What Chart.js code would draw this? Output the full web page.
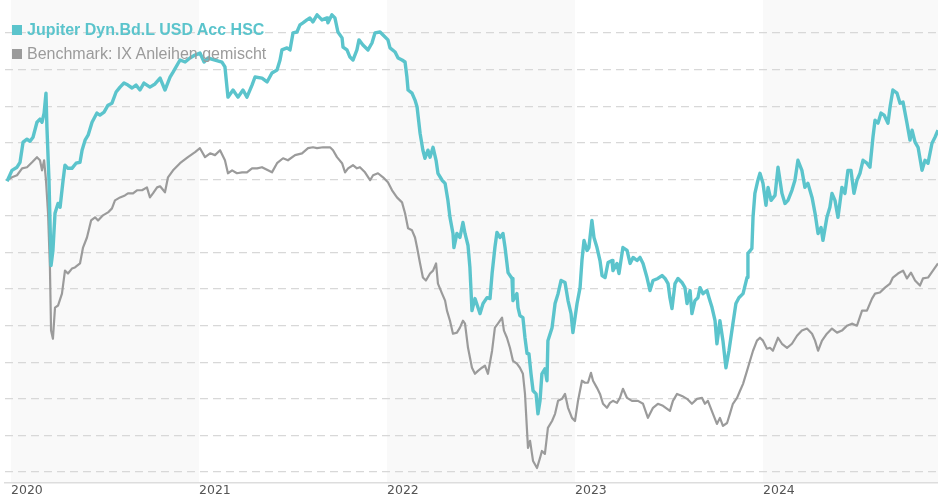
<!DOCTYPE html>
<html>
<head>
<meta charset="utf-8">
<script src="https://cdn.jsdelivr.net/npm/chart.js@4"></script>
<style>
  body { margin: 0; background: #fff; }
  #wrap { position: relative; width: 938px; height: 500px; }
  #legend { position: absolute; left: 12px; top: 20px; font-family: "Liberation Sans", Arial, sans-serif; font-size: 16px; }
  #legend div { height: 24px; line-height: 19px; white-space: nowrap; }
  #legend span.box { display: inline-block; width: 10px; height: 10px; margin-right: 5px; vertical-align: 0px; }
</style>
</head>
<body>
<div id="wrap">
  <canvas id="chart" width="938" height="500"></canvas>
  <div id="legend"></div>
</div>
<script>
// decimal years / cumulative performance in %
const fundName = "Jupiter Dyn.Bd.L USD Acc HSC";
const benchName = "Benchmark: IX Anleihen gemischt";
const yearTicks = [2020, 2021, 2022, 2023, 2024];
const shadedYears = [2020, 2022, 2024];

const fundT = [2019.979,2020.005,2020.032,2020.048,2020.064,2020.085,2020.101,2020.117,2020.138,2020.154,2020.165,2020.176,2020.186,2020.191,2020.202,2020.213,2020.223,2020.234,2020.250,2020.261,2020.277,2020.287,2020.303,2020.324,2020.346,2020.367,2020.378,2020.394,2020.410,2020.431,2020.457,2020.473,2020.495,2020.516,2020.537,2020.559,2020.580,2020.601,2020.622,2020.644,2020.665,2020.686,2020.707,2020.739,2020.766,2020.793,2020.819,2020.846,2020.862,2020.899,2020.926,2020.952,2020.979,2021.005,2021.027,2021.048,2021.085,2021.122,2021.138,2021.154,2021.181,2021.207,2021.234,2021.255,2021.282,2021.298,2021.335,2021.362,2021.388,2021.415,2021.431,2021.441,2021.468,2021.484,2021.500,2021.521,2021.537,2021.553,2021.574,2021.590,2021.606,2021.628,2021.654,2021.681,2021.686,2021.707,2021.723,2021.739,2021.761,2021.766,2021.787,2021.803,2021.819,2021.840,2021.851,2021.872,2021.899,2021.920,2021.936,2021.963,2021.979,2022.005,2022.016,2022.043,2022.059,2022.080,2022.096,2022.106,2022.112,2022.133,2022.149,2022.160,2022.176,2022.191,2022.202,2022.218,2022.229,2022.245,2022.261,2022.271,2022.293,2022.309,2022.324,2022.335,2022.351,2022.356,2022.372,2022.388,2022.404,2022.415,2022.431,2022.441,2022.452,2022.468,2022.484,2022.495,2022.511,2022.532,2022.548,2022.559,2022.574,2022.585,2022.601,2022.617,2022.628,2022.644,2022.665,2022.670,2022.691,2022.697,2022.707,2022.723,2022.734,2022.745,2022.755,2022.766,2022.777,2022.793,2022.803,2022.814,2022.824,2022.840,2022.851,2022.856,2022.878,2022.894,2022.910,2022.926,2022.947,2022.963,2022.979,2022.989,2023.011,2023.027,2023.037,2023.048,2023.064,2023.074,2023.090,2023.101,2023.117,2023.133,2023.144,2023.160,2023.176,2023.197,2023.202,2023.223,2023.234,2023.255,2023.277,2023.293,2023.309,2023.330,2023.346,2023.362,2023.383,2023.399,2023.415,2023.441,2023.463,2023.479,2023.495,2023.505,2023.516,2023.532,2023.548,2023.569,2023.585,2023.596,2023.612,2023.622,2023.638,2023.654,2023.665,2023.681,2023.702,2023.713,2023.729,2023.745,2023.755,2023.771,2023.787,2023.803,2023.819,2023.840,2023.856,2023.872,2023.894,2023.915,2023.920,2023.941,2023.947,2023.957,2023.973,2023.984,2024.000,2024.016,2024.027,2024.043,2024.064,2024.080,2024.101,2024.117,2024.133,2024.154,2024.170,2024.186,2024.207,2024.223,2024.239,2024.261,2024.277,2024.293,2024.309,2024.319,2024.340,2024.356,2024.367,2024.383,2024.399,2024.420,2024.436,2024.452,2024.468,2024.484,2024.500,2024.516,2024.532,2024.553,2024.569,2024.585,2024.596,2024.612,2024.628,2024.644,2024.665,2024.676,2024.691,2024.713,2024.729,2024.745,2024.766,2024.782,2024.793,2024.809,2024.825,2024.846,2024.862,2024.878,2024.899,2024.915,2024.931];
const fundPerf = [-0.11,0.49,0.66,0.93,2.03,2.19,2.08,2.30,3.12,3.29,3.12,3.62,4.71,2.85,-0.05,-4.71,-3.89,-1.86,-1.32,-1.53,-0.05,0.77,0.60,0.60,0.88,0.93,1.59,2.14,2.41,3.12,3.62,3.51,3.67,4.05,4.16,4.77,5.04,5.26,5.15,4.99,5.15,4.88,5.26,5.04,5.21,5.53,4.88,5.59,5.86,6.52,6.41,6.63,6.79,6.90,6.41,6.63,6.52,6.41,6.14,4.49,4.88,4.49,4.88,4.49,5.15,5.59,5.53,5.32,5.81,5.97,6.52,7.07,7.18,7.07,8.00,8.05,8.44,8.55,8.71,8.82,8.60,8.99,8.71,8.82,8.55,8.99,8.82,8.05,7.73,7.23,7.07,6.68,6.52,7.07,7.62,7.34,7.07,7.45,8.00,8.05,7.89,7.62,7.18,6.96,6.63,6.52,6.41,5.59,4.88,4.71,4.33,3.95,2.52,1.59,1.15,1.59,1.21,1.75,1.04,0.33,-0.05,-0.22,-1.15,-2.08,-2.96,-3.73,-2.96,-3.18,-2.36,-2.96,-3.62,-4.82,-7.18,-6.52,-7.01,-7.34,-6.79,-6.47,-6.52,-5.15,-3.73,-2.90,-3.18,-2.96,-3.73,-5.10,-5.42,-6.63,-6.25,-7.01,-7.45,-7.56,-8.66,-9.53,-9.53,-10.63,-11.56,-11.73,-12.82,-12.11,-10.63,-10.36,-11.01,-8.82,-8.11,-6.79,-6.25,-5.53,-5.64,-6.63,-7.34,-8.38,-6.79,-5.92,-4.44,-3.34,-3.89,-3.73,-2.25,-3.18,-3.73,-4.44,-5.26,-5.37,-4.55,-4.44,-4.99,-4.60,-5.15,-3.73,-3.89,-4.60,-4.27,-4.44,-4.27,-4.60,-5.37,-6.08,-5.53,-5.42,-5.26,-5.42,-5.70,-6.47,-7.07,-5.70,-5.42,-5.64,-5.92,-6.79,-6.08,-7.34,-6.63,-6.47,-5.92,-6.25,-6.08,-6.47,-7.01,-7.73,-8.99,-7.73,-8.82,-10.30,-9.37,-7.89,-6.79,-6.47,-6.25,-5.37,-4.05,-3.78,-2.08,-0.77,-0.05,0.33,-0.22,-1.42,-0.44,-1.15,-0.88,0.66,-0.77,-1.32,-1.15,-0.60,-0.05,1.04,0.49,-0.44,-0.22,-0.99,-1.86,-2.96,-2.63,-3.34,-2.08,-1.53,-0.77,-1.15,-2.08,-0.44,-0.77,0.49,0.49,-0.77,-0.05,0.33,1.04,0.88,0.66,2.30,3.23,3.07,3.62,3.51,3.07,3.95,4.88,4.71,4.16,4.22,3.07,2.14,2.68,2.03,1.75,0.49,1.04,0.88,1.97,2.30,2.68];

const benchT = [2019.979,2020.005,2020.032,2020.059,2020.085,2020.112,2020.138,2020.154,2020.165,2020.176,2020.186,2020.197,2020.207,2020.213,2020.223,2020.234,2020.250,2020.271,2020.287,2020.303,2020.324,2020.340,2020.367,2020.383,2020.404,2020.426,2020.447,2020.463,2020.489,2020.516,2020.537,2020.553,2020.580,2020.606,2020.622,2020.649,2020.670,2020.697,2020.723,2020.739,2020.755,2020.777,2020.793,2020.819,2020.835,2020.862,2020.899,2020.941,2020.979,2021.005,2021.032,2021.059,2021.085,2021.112,2021.138,2021.154,2021.176,2021.202,2021.229,2021.255,2021.282,2021.309,2021.335,2021.367,2021.388,2021.415,2021.447,2021.473,2021.511,2021.548,2021.580,2021.606,2021.628,2021.660,2021.697,2021.713,2021.734,2021.761,2021.777,2021.793,2021.819,2021.840,2021.856,2021.883,2021.910,2021.926,2021.952,2021.979,2022.005,2022.027,2022.053,2022.080,2022.096,2022.112,2022.133,2022.149,2022.160,2022.176,2022.191,2022.207,2022.229,2022.245,2022.261,2022.271,2022.293,2022.309,2022.319,2022.335,2022.351,2022.372,2022.388,2022.404,2022.415,2022.431,2022.452,2022.468,2022.484,2022.505,2022.521,2022.537,2022.559,2022.574,2022.590,2022.612,2022.622,2022.638,2022.654,2022.670,2022.691,2022.707,2022.723,2022.734,2022.750,2022.761,2022.777,2022.798,2022.814,2022.824,2022.840,2022.856,2022.878,2022.894,2022.910,2022.931,2022.947,2022.963,2022.984,2023.000,2023.016,2023.037,2023.053,2023.069,2023.085,2023.096,2023.117,2023.133,2023.149,2023.170,2023.186,2023.202,2023.223,2023.239,2023.255,2023.277,2023.303,2023.335,2023.362,2023.388,2023.415,2023.441,2023.468,2023.505,2023.521,2023.543,2023.569,2023.596,2023.622,2023.649,2023.676,2023.691,2023.707,2023.734,2023.755,2023.771,2023.787,2023.809,2023.824,2023.840,2023.862,2023.878,2023.894,2023.915,2023.931,2023.947,2023.968,2023.984,2024.000,2024.021,2024.037,2024.053,2024.080,2024.101,2024.128,2024.154,2024.181,2024.207,2024.234,2024.261,2024.277,2024.293,2024.314,2024.340,2024.367,2024.394,2024.420,2024.447,2024.473,2024.500,2024.527,2024.553,2024.580,2024.596,2024.622,2024.649,2024.676,2024.691,2024.718,2024.745,2024.766,2024.787,2024.809,2024.835,2024.851,2024.878,2024.904,2024.931];
const benchPerf = [-0.05,0.11,0.22,0.60,0.66,0.93,1.21,1.04,0.49,1.04,-0.05,-1.86,-4.82,-8.27,-8.71,-7.01,-6.90,-6.25,-4.99,-5.15,-4.88,-4.82,-4.60,-3.73,-3.18,-2.25,-2.08,-2.25,-1.97,-1.81,-1.59,-1.15,-0.99,-0.88,-0.77,-0.77,-0.60,-0.60,-0.44,-0.99,-0.77,-0.44,-0.38,-0.71,0.11,0.49,0.88,1.21,1.48,1.70,1.21,1.42,1.32,1.59,1.04,0.33,0.49,0.33,0.38,0.38,0.60,0.60,0.66,0.49,0.38,0.88,1.15,1.04,1.32,1.42,1.70,1.75,1.70,1.75,1.75,1.59,1.21,0.88,0.38,0.60,0.77,0.60,0.66,0.38,-0.05,0.22,0.33,0.11,-0.16,-0.60,-0.99,-1.26,-1.86,-2.68,-2.79,-3.18,-3.73,-4.60,-5.37,-5.53,-5.15,-4.99,-4.60,-5.70,-6.25,-6.63,-7.18,-7.73,-8.44,-8.38,-8.11,-7.73,-7.89,-9.21,-10.30,-10.63,-10.47,-10.30,-10.19,-10.63,-9.37,-8.11,-7.89,-7.56,-8.27,-8.66,-9.21,-9.92,-10.08,-10.30,-10.63,-11.73,-14.68,-14.30,-15.40,-15.78,-15.23,-14.85,-15.01,-13.59,-13.21,-12.82,-12.11,-12.00,-11.73,-12.49,-13.04,-13.21,-12.11,-11.01,-11.12,-11.12,-10.58,-11.01,-11.40,-11.73,-12.27,-12.49,-12.22,-12.11,-12.22,-11.95,-11.45,-11.95,-12.11,-12.11,-12.27,-13.04,-12.49,-12.27,-12.38,-12.66,-12.11,-11.73,-11.84,-12.00,-12.27,-12.00,-11.95,-12.27,-12.11,-12.82,-13.37,-13.04,-13.48,-13.32,-12.82,-12.27,-11.95,-11.56,-11.18,-10.47,-9.92,-9.37,-8.82,-8.66,-8.82,-9.26,-9.21,-9.37,-8.66,-8.99,-9.21,-8.99,-8.55,-8.27,-8.16,-8.44,-8.82,-9.37,-8.82,-8.44,-8.16,-8.38,-8.27,-8.00,-7.89,-8.00,-7.18,-7.18,-6.52,-6.25,-6.19,-5.92,-5.70,-5.37,-5.15,-4.99,-5.42,-5.10,-5.53,-5.81,-5.42,-5.37,-4.99,-4.60];

const teal = "#5bc4cc";
const grey = "#9b9b9b";

const toPoints = (ts, vs) => ts.map((t, i) => ({ x: t, y: vs[i] }));

// light bands behind every other year
const yearBands = {
  id: "yearBands",
  beforeDraw(chart) {
    const { ctx, chartArea, scales } = chart;
    ctx.save();
    ctx.fillStyle = "#f9f9f9";
    shadedYears.forEach(y => {
      const x0 = Math.max(scales.x.getPixelForValue(y), chartArea.left);
      const x1 = Math.min(scales.x.getPixelForValue(y + 1), chartArea.right);
      ctx.fillRect(x0, chartArea.top, x1 - x0, chartArea.bottom - chartArea.top);
    });
    ctx.restore();
  }
};

new Chart(document.getElementById("chart"), {
  type: "line",
  data: {
    datasets: [
      { label: fundName, data: toPoints(fundT, fundPerf), borderColor: teal, borderWidth: 3.4 },
      { label: benchName, data: toPoints(benchT, benchPerf), borderColor: grey, borderWidth: 2.2 }
    ]
  },
  options: {
    responsive: false,
    animation: false,
    layout: { padding: { left: 5, right: 0, top: 0, bottom: 2 } },
    elements: {
      point: { radius: 0 },
      line: { tension: 0, borderJoinStyle: "round", fill: false }
    },
    plugins: { legend: { display: false }, tooltip: { enabled: false } },
    scales: {
      x: {
        type: "linear",
        min: 2019.968,
        max: 2024.931,
        afterBuildTicks: s => { s.ticks = yearTicks.map(v => ({ value: v })); },
        grid: { display: false, drawTicks: false },
        border: { display: true, color: "#dddddd", width: 1.5 },
        ticks: {
          align: "start",
          padding: 0,
          maxRotation: 0,
          autoSkip: false,
          color: "#555",
          font: { family: "'DejaVu Sans', Verdana, sans-serif", size: 12.5 },
          callback: v => String(v)
        }
      },
      y: {
        min: -16.6,
        max: 9.8,
        afterBuildTicks: s => {
          const t = [];
          for (let v = -16; v <= 8; v += 2) t.push({ value: v });
          s.ticks = t;
        },
        ticks: { display: false },
        border: { display: false, dash: [8, 5] },
        grid: { color: "#d8d8d8", lineWidth: 1.2, drawTicks: false }
      }
    }
  },
  plugins: [yearBands]
});

document.getElementById("legend").innerHTML =
  `<div style="color:${teal};font-weight:bold"><span class="box" style="background:${teal}"></span>${fundName}</div>` +
  `<div style="color:${grey}"><span class="box" style="background:${grey}"></span>${benchName}</div>`;
</script>
</body>
</html>
